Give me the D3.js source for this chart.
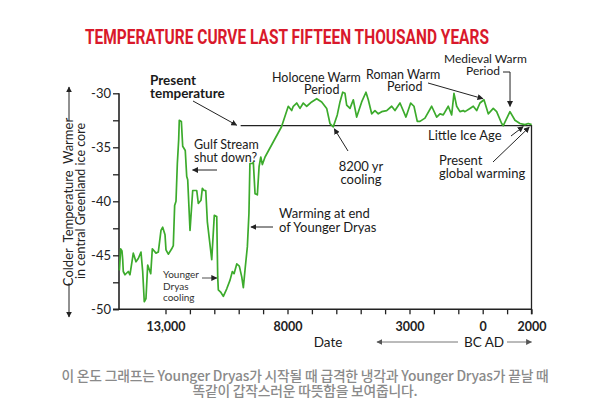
<!DOCTYPE html>
<html>
<head>
<meta charset="utf-8">
<script src="https://cdn.jsdelivr.net/npm/d3@7"></script>
<style>
  body { margin: 0; background: #fff; }
  text { font-family: Lato, "Open Sans", sans-serif; }
</style>
</head>
<body>
<div id="chart"></div>
<script>
// Greenland ice core temperature (year, negative = BC)
const curveYears = [
  -14890, -14836, -14783, -14754, -14730, -14660, -14525, -14455, -14320, -14210,
  -14115, -14005, -13935, -13870, -13800, -13730, -13605, -13540, -13390, -13295,
  -13185, -13115, -13020, -12980, -12885, -12745, -12680, -12625, -12570, -12515,
  -12460, -12435, -12350, -12295, -12190, -12130, -12090, -11995, -11885, -11720,
  -11655, -11545, -11490, -11420, -11350, -11285, -11105, -11000, -10900, -10860,
  -10835, -10740, -10630, -10490, -10355, -10260, -10190, -10080, -9975, -9875,
  -9810, -9730, -9645, -9580, -9540, -9445, -9400, -9330, -9235, -9165,
  -9095, -9030, -8920, -8245, -7968, -7828, -7763, -7623, -7488, -7353,
  -7213, -7009, -6804, -6599, -6394, -6259, -6124, -5960, -5849, -5738,
  -5644, -5575, -5439, -5304, -5165, -4960, -4784, -4689, -4550, -4415,
  -4279, -4140, -3935, -3730, -3595, -3390, -3145, -2952, -2817, -2681,
  -2571, -2366, -2091, -1886, -1751, -1616, -1411, -1272, -1177, -1067,
  -932, -796, -727, -522, -387, -247, -112, 52, 228, 433,
  572, 777, 843, 1117, 1322, 1527, 1732, 1867, 2006
];
const curveTemps = [
  -46.4, -44.4, -44.6, -45.4, -46.5, -46.8, -46.5, -46.8, -44.8, -45.6,
  -45.3, -44.7, -46.5, -49.3, -49.0, -45.9, -46.7, -44.4, -44.8, -44.7,
  -42.7, -42.4, -43.1, -44.5, -44.9, -44.4, -44.1, -40.4, -40.0, -36.5,
  -34.3, -32.5, -32.6, -34.9, -35.3, -37.7, -38.0, -42.7, -39.0, -39.0,
  -40.2, -39.9, -38.8, -39.0, -39.0, -41.9, -45.4, -41.3, -41.4, -47.0,
  -48.2, -48.4, -48.8, -48.1, -47.3, -46.5, -46.7, -45.8, -46.0, -47.0,
  -48.0, -46.1, -44.2, -41.1, -36.5, -36.5, -36.4, -39.3, -39.4, -36.8,
  -35.9, -36.6, -35.9, -33.1, -31.2, -31.6, -31.2, -30.9, -31.4, -30.9,
  -31.2, -30.8, -30.5, -30.8, -31.4, -32.8, -33.1, -32.0, -30.8, -29.9,
  -30.0, -31.1, -31.4, -30.6, -32.2, -30.8, -29.9, -30.6, -31.9, -31.6,
  -31.9, -31.7, -31.6, -31.2, -31.6, -30.9, -32.2, -30.9, -31.2, -32.6,
  -32.6, -32.3, -31.2, -32.2, -31.9, -32.0, -31.2, -32.0, -30.0, -31.2,
  -31.7, -31.6, -31.7, -31.4, -31.2, -31.6, -30.9, -30.6, -31.9, -31.4,
  -31.7, -32.8, -33.0, -31.7, -32.5, -32.8, -32.9, -32.8, -32.9
];
const presentTemp = -33;

const xTickValues = d3.range(-13000, 2001, 1000);
const xTickLabels = {'-13000': '13,000', '-8000': '8000', '-3000': '3000', '0': '0', '2000': '2000'};
const yTickValues = d3.range(-50, -29, 2.5);

const title = 'TEMPERATURE CURVE LAST FIFTEEN THOUSAND YEARS';
const caption = [
  '이 온도 그래프는 Younger Dryas가 시작될 때 급격한 냉각과 Younger Dryas가 끝날 때',
  '똑같이 갑작스러운 따뜻함을 보여줍니다.'
];

const W = 604, H = 419;
const svg = d3.select('#chart').append('svg')
    .attr('width', W).attr('height', H);

svg.append('rect').attr('width', W).attr('height', H).attr('fill', '#fff');

// arrow heads
const defs = svg.append('defs');
[['arr', '#222'], ['arrGray', '#555']].forEach(([id, col]) => {
    defs.append('marker')
        .attr('id', id)
        .attr('viewBox', '0 0 10 10')
        .attr('refX', 9).attr('refY', 5)
        .attr('markerWidth', 6).attr('markerHeight', 6)
        .attr('markerUnits', 'userSpaceOnUse')
        .attr('orient', 'auto')
        .append('path')
        .attr('d', 'M0,0 L10,5 L0,10 Z')
        .attr('fill', col);
});

// scales
const x = d3.scaleLinear().domain([-13000, 2000]).range([165.5, 531.5]);
const y = d3.scaleLinear().domain([-50, -30]).range([309.3, 93.3]);

// title
svg.append('text')
    .attr('x', 85).attr('y', 44)
    .attr('textLength', 404)
    .attr('lengthAdjust', 'spacingAndGlyphs')
    .attr('fill', '#d9192b')
    .style('font-family', 'Roboto, sans-serif')
    .style('font-weight', 'bold')
    .style('font-size', '19.5px')
    .text(title);

// present temperature line + right frame
svg.append('path')
    .attr('d', `M${x(-9100) - 20},${y(presentTemp)} H${x(2000)} V${y(-50) + 5}`)
    .attr('fill', 'none')
    .attr('stroke', '#222')
    .attr('stroke-width', 1.3);

// axes
const yAxis = svg.append('g')
    .attr('transform', `translate(${x(-13000) - 46.5},0)`)
    .call(d3.axisLeft(y).tickValues(yTickValues).tickSize(6)
        .tickFormat(d => d % 5 === 0 ? d : ''));
yAxis.select('.domain').remove();
yAxis.selectAll('.tick line').attr('stroke', '#222').attr('stroke-width', 1.3);
yAxis.selectAll('.tick text')
    .attr('x', -8)
    .attr('fill', '#222')
    .style('font-family', 'Lato, sans-serif')
    .style('font-size', '13px');
yAxis.append('line')
    .attr('y1', y(-30)).attr('y2', y(-50))
    .attr('stroke', '#222').attr('stroke-width', 1.6);

const xAxis = svg.append('g')
    .attr('transform', `translate(0,${y(-50)})`)
    .call(d3.axisBottom(x).tickValues(xTickValues).tickSize(5)
        .tickFormat(d => xTickLabels[d] || ''));
xAxis.select('.domain').remove();
xAxis.selectAll('.tick line').attr('stroke', '#222').attr('stroke-width', 1.3);
xAxis.selectAll('.tick text')
    .attr('y', 13)
    .attr('fill', '#222')
    .style('font-family', 'Lato, sans-serif')
    .style('font-weight', 'bold')
    .style('font-size', '12.5px');
xAxis.append('line')
    .attr('x1', x(-13000) - 52.5).attr('x2', x(2000))
    .attr('stroke', '#222').attr('stroke-width', 1.6);

// curve
const curveData = curveYears.map((yr, i) => [yr, curveTemps[i]]);
svg.append('path')
    .datum(curveData)
    .attr('fill', 'none')
    .attr('stroke', '#3cab2c')
    .attr('stroke-width', 1.7)
    .attr('stroke-linejoin', 'round')
    .attr('d', d3.line().x(d => x(d[0])).y(d => y(d[1])));

// y axis title
const yTitle = svg.append('g').attr('transform', 'translate(73,202) rotate(-90)');
const yt = yTitle.append('text')
    .attr('text-anchor', 'middle')
    .attr('fill', '#222')
    .style('font-size', '13px');
yt.append('tspan').text('Colder');
yt.append('tspan').attr('dx', 7).text('Temperature');
yt.append('tspan').attr('dx', 7).text('Warmer');
const yw = yt.node().getComputedTextLength();
yTitle.append('line')
    .attr('x1', -yw / 2 - 4).attr('x2', -115).attr('y1', -4).attr('y2', -4)
    .attr('stroke', '#222').attr('stroke-width', 1).attr('marker-end', 'url(#arr)');
yTitle.append('line')
    .attr('x1', yw / 2 + 4).attr('x2', 115).attr('y1', -4).attr('y2', -4)
    .attr('stroke', '#222').attr('stroke-width', 1).attr('marker-end', 'url(#arr)');
svg.append('text')
    .attr('transform', 'translate(85,201) rotate(-90)')
    .attr('text-anchor', 'middle')
    .attr('fill', '#222')
    .style('font-size', '12.5px')
    .text('in central Greenland ice core');

// annotations
const notes = [
  {lines: ['Present', 'temperature'], x: 150, y: 85, dy: 13, size: 13.5, weight: 'bold'},
  {lines: ['Holocene Warm'], x: 272, y: 82, size: 12.5},
  {lines: ['Period'], x: 304, y: 94, size: 12.5},
  {lines: ['Roman Warm'], x: 366, y: 79, size: 12.5},
  {lines: ['Period'], x: 387, y: 91, size: 12.5},
  {lines: ['Medieval Warm'], x: 444, y: 63, size: 12},
  {lines: ['Period'], x: 466, y: 75, size: 12},
  {lines: ['8200 yr', 'cooling'], x: 361, y: 171, dy: 13, size: 13, anchor: 'middle'},
  {lines: ['Little Ice Age'], x: 428, y: 140, size: 13},
  {lines: ['Present', 'global warming'], x: 439, y: 165, dy: 13, size: 13},
  {lines: ['Gulf Stream', 'shut down?'], x: 194, y: 149, dy: 13, size: 12.5},
  {lines: ['Warming at end', 'of Younger Dryas'], x: 279, y: 218, dy: 14, size: 13},
  {lines: ['Younger', 'Dryas', 'cooling'], x: 163, y: 278, dy: 11.5, size: 10, color: '#333'}
];
notes.forEach(n => {
    const t = svg.append('text')
        .attr('x', n.x).attr('y', n.y)
        .attr('text-anchor', n.anchor || 'start')
        .attr('fill', n.color || '#1a1a1a')
        .style('font-size', n.size + 'px')
        .style('font-weight', n.weight || 'normal');
    n.lines.forEach((l, i) => {
        t.append('tspan').attr('x', n.x).attr('dy', i === 0 ? 0 : n.dy).text(l);
    });
});

// annotation arrows, tips on the data
const arrows = [
  {d: `M193,101 L${x(-9100) - 24},${y(presentTemp) - 0.5}`},
  {d: `M428,83 L${x(50) - 1},${y(-30.5)}`},
  {d: `M503,72 H${x(1120)} V${y(-31.4) - 2}`},
  {d: `M348,151 L${x(-6124) + 1},${y(-33.1) + 2}`},
  {d: `M511,136 L${x(1700) - 1},${y(-33) + 1}`},
  {d: `M493,162 L${x(1950) - 1},${y(-33) + 1.5}`},
  {d: `M217,170 L${x(-12300) + 10},170`},
  {d: `M273,227 L${x(-9580) + 2},227`},
  {d: `M202,278 L${x(-10860) - 1},278`, w: 0.8}
];
arrows.forEach(a => {
    svg.append('path')
        .attr('d', a.d)
        .attr('fill', 'none')
        .attr('stroke', '#222')
        .attr('stroke-width', a.w || 1)
        .attr('marker-end', 'url(#arr)');
});

// date labels
svg.append('text')
    .attr('x', 328).attr('y', 347)
    .attr('text-anchor', 'middle')
    .attr('fill', '#1a1a1a')
    .style('font-size', '13.5px')
    .text('Date');
svg.append('text')
    .attr('x', 484).attr('y', 347)
    .attr('text-anchor', 'middle')
    .attr('fill', '#1a1a1a')
    .style('font-size', '13.5px')
    .text('BC AD');
svg.append('line')
    .attr('x1', 458).attr('x2', 377).attr('y1', 342).attr('y2', 342)
    .attr('stroke', '#777').attr('stroke-width', 1).attr('marker-end', 'url(#arrGray)');
svg.append('line')
    .attr('x1', 507).attr('x2', x(2000)).attr('y1', 342).attr('y2', 342)
    .attr('stroke', '#777').attr('stroke-width', 1).attr('marker-end', 'url(#arrGray)');

// caption
caption.forEach((c, i) => {
    svg.append('text')
        .attr('x', 305).attr('y', 381 + i * 15)
        .attr('text-anchor', 'middle')
        .attr('fill', '#8a8a8a')
        .style('font-family', '"Noto Sans CJK KR", sans-serif')
        .style('font-weight', 500)
        .style('font-size', '13.8px')
        .style('letter-spacing', '-0.2px')
        .text(c);
});
</script>
</body>
</html>
